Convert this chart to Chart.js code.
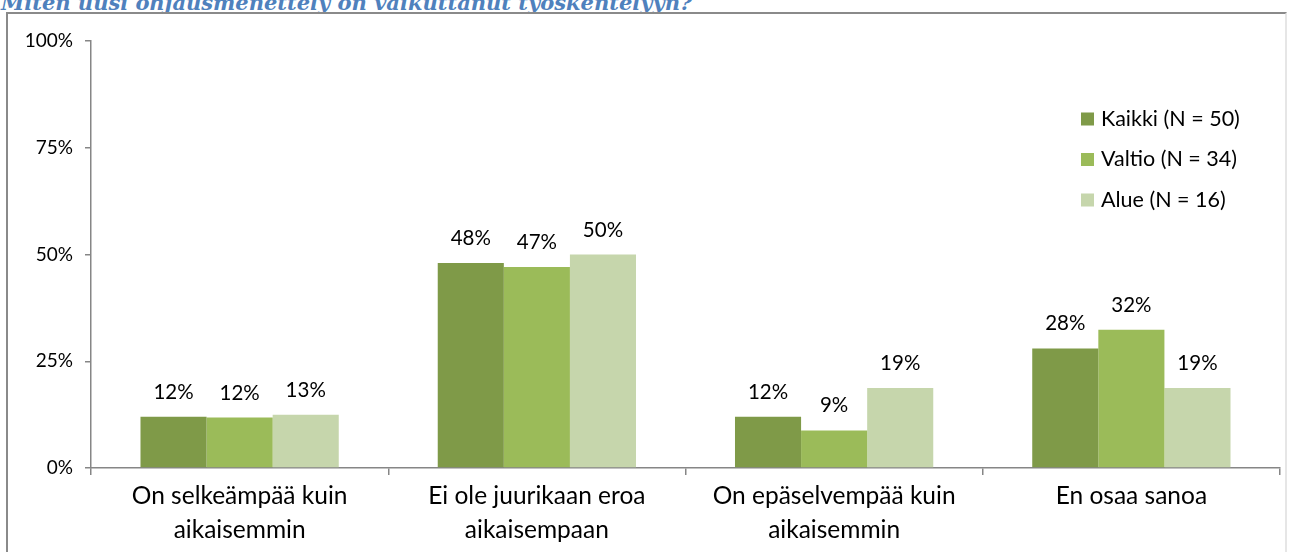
<!DOCTYPE html>
<html>
<head>
<meta charset="utf-8">
<script src="https://cdn.jsdelivr.net/npm/chart.js@4.4.0/dist/chart.umd.min.js"></script>
<style>
    html, body { margin: 0; padding: 0; background: #fff; overflow: hidden; }
    #wrap { position: relative; width: 1290px; height: 552px; overflow: hidden; }
    #title {
        position: absolute; left: 1px; top: -10px; white-space: nowrap;
        font-family: "DejaVu Serif", serif; font-style: italic; font-weight: bold;
        font-size: 21px; color: #4f81bd;
    }
    #frame {
        position: absolute; left: 6px; top: 12px; width: 1281px; height: 600px;
        border: 2px solid #8a8a8a; border-right-color: #e6e6e6; box-sizing: border-box;
    }
    #chart { position: absolute; left: 0; top: 0; }
</style>
</head>
<body>
<div id="wrap">
    <div id="title">Miten uusi ohjausmenettely on vaikuttanut työskentelyyn?</div>
    <div id="frame"></div>
    <canvas id="chart" width="1290" height="552"></canvas>
</div>
<script>
// categories and series
const categories = [
    ['On selkeämpää kuin', 'aikaisemmin'],
    ['Ei ole juurikaan eroa', 'aikaisempaan'],
    ['On epäselvempää kuin', 'aikaisemmin'],
    ['En osaa sanoa']
];
const seriesNames = ['Kaikki (N = 50)', 'Valtio (N = 34)', 'Alue (N = 16)'];
const kaikki = [12, 48, 12, 28];
const valtio = [11.8, 47.1, 8.8, 32.4];
const alue = [12.5, 50, 18.75, 18.75];
const yTicks = [0, 25, 50, 75, 100];

const colors = ['#7f9a48', '#9bbb59', '#c6d6ac'];
const FONT = 'Lato';
const axisGrey = '#868686';

// value labels above bars
const barLabels = {
    id: 'barLabels',
    afterDatasetsDraw(chart) {
        const ctx = chart.ctx;
        ctx.save();
        ctx.font = `20.5px ${FONT}`;
        ctx.fillStyle = '#000';
        ctx.textAlign = 'center';
        ctx.textBaseline = 'alphabetic';
        chart.data.datasets.forEach((ds, i) => {
            chart.getDatasetMeta(i).data.forEach((bar, j) => {
                ctx.fillText(Math.round(ds.data[j]) + '%', bar.x, bar.y - 18);
            });
        });
        ctx.restore();
    }
};

// legend drawn inside the plot, right side
const innerLegend = {
    id: 'innerLegend',
    afterDraw(chart) {
        const ctx = chart.ctx;
        const area = chart.chartArea;
        const x = area.right - 199;
        ctx.save();
        ctx.font = `21.5px ${FONT}`;
        ctx.textBaseline = 'middle';
        ctx.textAlign = 'left';
        chart.data.datasets.forEach((ds, i) => {
            const y = area.top + 78 + i * 40.5;
            ctx.fillStyle = ds.backgroundColor;
            ctx.fillRect(x, y - 6.5, 13, 13);
            ctx.fillStyle = '#000';
            ctx.fillText(ds.label, x + 20, y);
        });
        ctx.restore();
    }
};

new Chart(document.getElementById('chart'), {
    type: 'bar',
    data: {
        labels: categories,
        datasets: [
            { label: seriesNames[0], data: kaikki, backgroundColor: colors[0] },
            { label: seriesNames[1], data: valtio, backgroundColor: colors[1] },
            { label: seriesNames[2], data: alue, backgroundColor: colors[2] }
        ]
    },
    options: {
        responsive: false,
        animation: false,
        layout: { padding: { left: 0, right: 10, top: 41, bottom: 0 } },
        datasets: { bar: { categoryPercentage: 0.667, barPercentage: 1.0 } },
        scales: {
            x: {
                afterFit: (scale) => { scale.height = 84; },
                grid: { offset: true, drawOnChartArea: false, drawTicks: true, tickLength: 7, color: axisGrey, lineWidth: 1.5 },
                border: { color: axisGrey, width: 1.5 },
                ticks: { color: '#000', font: { family: FONT, size: 24.5, lineHeight: 1.35 }, padding: 5, maxRotation: 0, autoSkip: false }
            },
            y: {
                min: 0,
                max: 100,
                afterFit: (scale) => { scale.width = 91; },
                afterBuildTicks: (scale) => { scale.ticks = yTicks.map(v => ({ value: v })); },
                grid: { drawOnChartArea: false, drawTicks: true, tickLength: 6, color: axisGrey, lineWidth: 1.5 },
                border: { color: axisGrey, width: 1.5 },
                ticks: { color: '#000', font: { family: FONT, size: 19 }, padding: 12, callback: (v) => v + '%' }
            }
        },
        plugins: {
            legend: { display: false },
            tooltip: { enabled: false }
        }
    },
    plugins: [barLabels, innerLegend]
});
</script>
</body>
</html>
